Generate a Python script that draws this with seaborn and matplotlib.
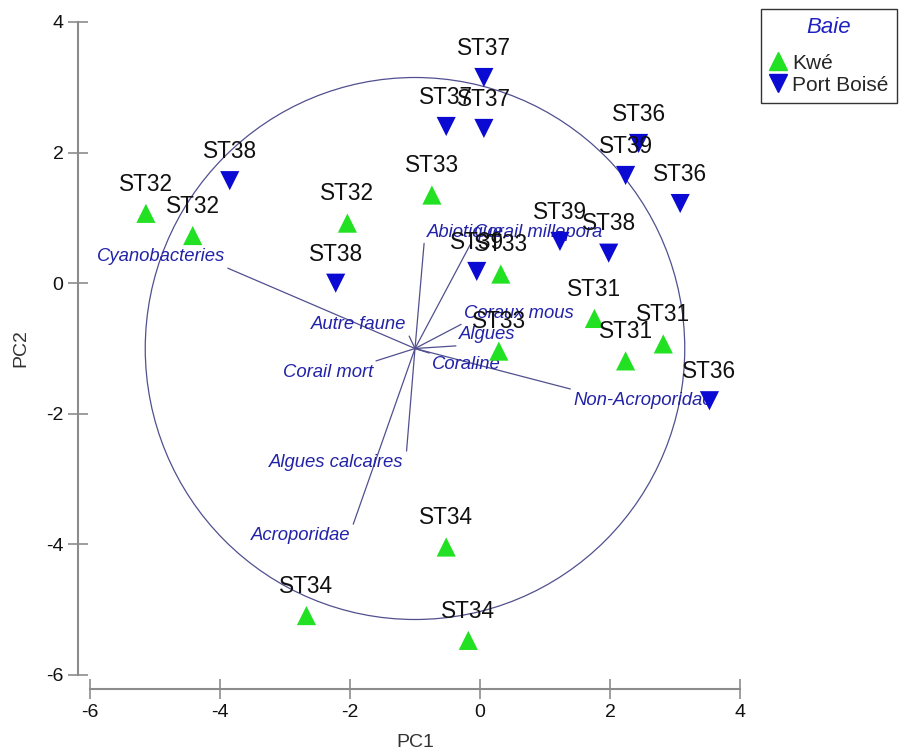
import matplotlib
matplotlib.use("Agg")
import matplotlib.pyplot as plt
from matplotlib.lines import Line2D
from matplotlib.patches import Circle
import seaborn as sns
import pandas as pd

# ---------------- data ----------------
kwe_labels = ["ST32", "ST32", "ST32", "ST33", "ST33", "ST33",
              "ST31", "ST31", "ST31", "ST34", "ST34", "ST34"]
kwe_pc1 = [-5.14, -4.42, -2.04, -0.74, 0.32, 0.29, 1.76, 2.82, 2.24, -0.52, -2.67, -0.18]
kwe_pc2 = [1.07, 0.73, 0.92, 1.35, 0.14, -1.04, -0.54, -0.93, -1.19, -4.04, -5.09, -5.47]

pb_labels = ["ST37", "ST37", "ST37", "ST38", "ST38", "ST36",
             "ST39", "ST36", "ST39", "ST38", "ST39", "ST36"]
pb_pc1 = [0.06, -0.52, 0.06, -3.85, -2.22, 2.44, 2.24, 3.08, 1.23, 1.98, -0.05, 3.53]
pb_pc2 = [3.15, 2.40, 2.37, 1.57, 0.00, 2.14, 1.65, 1.22, 0.64, 0.46, 0.18, -1.80]

groups = ["Kwé", "Port Boisé"]
group_colors = ["#22e022", "#0a0ad2"]

vec_names = ["Cyanobacteries", "Abiotique", "Corail millepora", "Coraux mous", "Algues",
             "Coraline", "Non-Acroporidae", "Autre faune", "Corail mort",
             "Algues calcaires", "Acroporidae"]
vec_x = [-3.88, -0.86, -0.14, -0.29, -0.37, -0.78, 1.39, -1.09, -1.60, -1.13, -1.95]
vec_y = [0.23, 0.61, 0.61, -0.63, -0.96, -1.07, -1.62, -0.81, -1.19, -2.57, -3.69]

origin_x, origin_y = -1.0, -1.0
circle_radius = 4.15

x_ticks = [-6, -4, -2, 0, 2, 4]
y_ticks = [-6, -4, -2, 0, 2, 4]

# ---------------- table ----------------
df = pd.DataFrame({
    "PC1": kwe_pc1 + pb_pc1,
    "PC2": kwe_pc2 + pb_pc2,
    "Baie": [groups[0]] * len(kwe_pc1) + [groups[1]] * len(pb_pc1),
    "Station": kwe_labels + pb_labels,
})

# ---------------- style ----------------
sns.set_style("white")
plt.rcParams["font.family"] = ["Liberation Sans", "DejaVu Sans"]

fig = plt.figure(figsize=(9.02, 7.52), dpi=100)
ax = fig.add_axes([90 / 902, 77 / 752, 650 / 902, 653 / 752])

vec_color = "#50508f"
label_color = "#2323a8"

# correlation circle
ax.add_patch(Circle((origin_x, origin_y), circle_radius, fill=False,
                    edgecolor=vec_color, linewidth=0.9, zorder=1))

# vectors and labels
for name, vx, vy in zip(vec_names, vec_x, vec_y):
    ax.plot([origin_x, vx], [origin_y, vy], color=vec_color, linewidth=0.9, zorder=1)
    ha = "left" if vx > origin_x else "right"
    va = "bottom" if vy > origin_y else "top"
    dx = 2 if ha == "left" else -2
    dy = 2 if va == "bottom" else -2
    ax.annotate(name, (vx, vy), xytext=(dx, dy), textcoords="offset points",
                ha=ha, va=va, fontsize=13.3, style="italic", color=label_color, zorder=2)

# points
palette = dict(zip(groups, group_colors))
sns.scatterplot(data=df, x="PC1", y="PC2", hue="Baie", style="Baie",
                markers={groups[0]: "^", groups[1]: "v"}, palette=palette,
                s=190, linewidth=0, legend=False, ax=ax, zorder=3, clip_on=False)

for _, r in df.iterrows():
    ax.annotate(r["Station"], (r["PC1"], r["PC2"]), xytext=(0, 21),
                textcoords="offset points", ha="center", va="center",
                fontsize=16.3, color="#111111", zorder=4)

# axes
ax.set_xlim(-6, 4)
ax.set_ylim(-6, 4)
ax.set_xticks(x_ticks)
ax.set_yticks(y_ticks)
ax.set_xticklabels([str(t) for t in x_ticks])
ax.set_yticklabels([str(t) for t in y_ticks])
sns.despine(ax=ax)
ax.spines["left"].set_position(("outward", 9))
ax.spines["bottom"].set_position(("outward", 10))
for s in ["left", "bottom"]:
    ax.spines[s].set_color("#8c8c8c")
    ax.spines[s].set_linewidth(1.5)
ax.tick_params(axis="both", which="major", bottom=True, left=True,
               direction="inout", length=14, width=1.2,
               color="#8c8c8c", labelsize=14, labelcolor="#111111")
ax.tick_params(axis="x", pad=4)
ax.tick_params(axis="y", pad=3)
ax.set_xlabel("PC1", fontsize=14, color="#333333", labelpad=9)
ax.set_ylabel("PC2", fontsize=14, color="#333333", labelpad=12)

# legend
handles = [Line2D([], [], marker="^", linestyle="", color=group_colors[0], markersize=13),
           Line2D([], [], marker="v", linestyle="", color=group_colors[1], markersize=13)]
leg = fig.legend(handles, groups, title="Baie", loc="upper left",
                 bbox_to_anchor=(761 / 902, 1 - 9 / 752), frameon=True, fancybox=False,
                 fontsize=15, title_fontsize=16, handlelength=0.8, handletextpad=0.3,
                 borderpad=0.4, labelspacing=0.15, borderaxespad=0, edgecolor="black")
leg.get_frame().set_linewidth(1.0)
leg.get_title().set_style("italic")
leg.get_title().set_color("#2020c0")
leg._legend_box.sep = 11

fig.savefig("out.png", dpi=100)
